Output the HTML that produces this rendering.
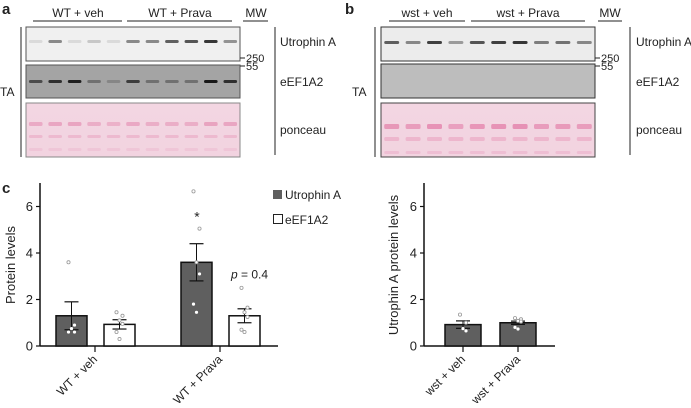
<!DOCTYPE html>
<html><head><meta charset="utf-8"><style>
body{margin:0;background:#fff;width:691px;height:403px;overflow:hidden;font-family:"Liberation Sans",sans-serif}
svg text{font-family:"Liberation Sans",sans-serif;fill:#222}
</style></head><body>
<svg id="fig" width="691" height="403" xmlns="http://www.w3.org/2000/svg">
<defs>
<linearGradient id="pon" x1="0" y1="0" x2="0" y2="1">
<stop offset="0" stop-color="#f3d6e2"/><stop offset="1" stop-color="#f2d3e0"/></linearGradient>
</defs>
<g>
<text x="2" y="14" font-size="15" font-weight="bold">a</text>
<text x="78" y="17" font-size="12" text-anchor="middle">WT + veh</text>
<line x1="33" y1="21" x2="122" y2="21" stroke="#222"/>
<text x="180" y="17" font-size="12" text-anchor="middle">WT + Prava</text>
<line x1="127" y1="21" x2="232" y2="21" stroke="#222"/>
<text x="256" y="17" font-size="12" text-anchor="middle">MW</text>
<line x1="243" y1="21" x2="268" y2="21" stroke="#222"/>
<line x1="21" y1="27" x2="21" y2="157" stroke="#222"/>
<text x="0" y="96" font-size="12">TA</text>
<rect x="26" y="27" width="214" height="34" fill="#f0f0f0" stroke="#555"/>
<rect x="26" y="65" width="214" height="33" fill="#a4a4a4" stroke="#555"/>
<rect x="26" y="103" width="214" height="54" fill="url(#pon)" stroke="#888"/>
<g id="bandsA"></g>
<line x1="240" y1="58" x2="245" y2="58" stroke="#222"/><text x="246" y="62" font-size="11">250</text>
<line x1="240" y1="66" x2="245" y2="66" stroke="#222"/><text x="246" y="70" font-size="11">55</text>
<line x1="275" y1="27" x2="275" y2="155" stroke="#222"/>
<text x="280" y="46" font-size="12">Utrophin A</text>
<text x="280" y="86" font-size="12">eEF1A2</text>
<text x="280" y="134" font-size="12">ponceau</text>
</g>
<g>
<text x="345" y="14" font-size="15" font-weight="bold">b</text>
<text x="427" y="17" font-size="12" text-anchor="middle">wst + veh</text>
<line x1="389" y1="21" x2="465" y2="21" stroke="#222"/>
<text x="528" y="17" font-size="12" text-anchor="middle">wst + Prava</text>
<line x1="471" y1="21" x2="585" y2="21" stroke="#222"/>
<text x="610" y="17" font-size="12" text-anchor="middle">MW</text>
<line x1="598" y1="21" x2="622" y2="21" stroke="#222"/>
<line x1="375" y1="27" x2="375" y2="157" stroke="#222"/>
<text x="352" y="96" font-size="12">TA</text>
<rect x="381" y="27" width="214" height="34" fill="#ececec" stroke="#333"/>
<rect x="381" y="64" width="214" height="34" fill="#bdbdbd" stroke="#333"/>
<rect x="381" y="103" width="214" height="54" fill="url(#pon)" stroke="#444"/>
<g id="bandsB"></g>
<line x1="595" y1="58" x2="600" y2="58" stroke="#222"/><text x="601" y="62" font-size="11">250</text>
<line x1="595" y1="66" x2="600" y2="66" stroke="#222"/><text x="601" y="70" font-size="11">55</text>
<line x1="630" y1="27" x2="630" y2="155" stroke="#222"/>
<text x="636" y="46" font-size="12">Utrophin A</text>
<text x="636" y="86" font-size="12">eEF1A2</text>
<text x="636" y="134" font-size="12">ponceau</text>
</g>
<text x="2" y="193" font-size="15" font-weight="bold">c</text>
<g id="chartL"></g>
<g id="chartR"></g>
<rect x="273" y="190" width="9" height="9" fill="#5f5f5f"/>
<text x="285" y="199" font-size="12">Utrophin A</text>
<rect x="273.5" y="214.5" width="9" height="9" fill="#fff" stroke="#222"/>
<text x="285" y="224" font-size="12">eEF1A2</text>
</svg>
<script>
const NS="http://www.w3.org/2000/svg";
function mk(p,t,a){const e=document.createElementNS(NS,t);for(const k in a)e.setAttribute(k,a[k]);p.appendChild(e);return e;}
const bandsAUtro=[0.1,0.5,0.1,0.2,0.1,0.5,0.5,0.7,0.75,0.9,0.45];
const bandsAEef=[0.6,0.8,0.9,0.35,0.2,0.7,0.35,0.35,0.35,0.95,0.8];
const bandsBUtro=[0.7,0.5,0.85,0.4,0.75,0.85,0.9,0.55,0.6,0.5];
function bands(g,x0,w,arr,y,col,h){const n=arr.length,s=w/n;arr.forEach((v,i)=>{const b=mk(g,'rect',{x:x0+i*s+s*0.15,y:y,width:s*0.7,height:h||3,rx:1.5,fill:col,opacity:v});

});}
const gA=document.getElementById('bandsA'),gB=document.getElementById('bandsB');
bands(gA,26,214,bandsAUtro,40,'#222');
bands(gA,26,214,bandsAEef,80,'#111');
bands(gA,26,214,bandsAEef.map(v=>0.35+0.2*v),122,'#e07aa5',4);
bands(gA,26,214,bandsAEef.map(v=>0.3),135,'#e07aa5',3);
bands(gA,26,214,bandsAEef.map(v=>0.15),148,'#e07aa5',3);
bands(gB,381,214,bandsBUtro,41,'#222');
bands(gB,381,214,bandsBUtro.map(v=>0.4+0.3*v),124,'#e0709f',5);
bands(gB,381,214,bandsBUtro.map(v=>0.3),137,'#e0709f',4);
bands(gB,381,214,bandsBUtro.map(v=>0.2),151,'#e0709f',3);

const catsL=["WT + veh","WT + Prava"];
const utroMean=[1.3,3.6], utroErr=[0.6,0.8];
const eefMean=[0.93,1.3], eefErr=[0.2,0.3];
const utroPts=[[3.6,0.9,0.75,0.6,0.6],[6.65,5.05,3.6,3.1,1.8,1.45]];
const eefPts=[[1.45,1.3,1.1,0.95,0.6,0.3],[2.5,1.65,1.45,1.25,0.7,0.6]];
const catsR=["wst + veh","wst + Prava"];
const wstMean=[0.92,1.0], wstErr=[0.16,0.07];
const wstPts=[[1.35,1.0,0.75,0.65],[1.2,1.15,1.08,1.05,0.8,0.73]];
const yTicks=[0,2,4,6];

const y0=346, ppu=23.25;
const yS=v=>y0-v*ppu;

function axis(g,xa,xe,title,tx){
  mk(g,'line',{x1:xa,y1:183,x2:xa,y2:y0,stroke:'#111','stroke-width':1.5});
  mk(g,'line',{x1:xa,y1:y0,x2:xe,y2:y0,stroke:'#111','stroke-width':1.5});
  yTicks.forEach(t=>{mk(g,'line',{x1:xa-4,y1:yS(t),x2:xa,y2:yS(t),stroke:'#111','stroke-width':1.2});
   const l=mk(g,'text',{x:xa-7,y:yS(t)+4.5,'font-size':13,'text-anchor':'end'});l.textContent=t;
   
   });
  const tt=mk(g,'text',{x:tx,y:265,'font-size':13,'text-anchor':'middle',transform:`rotate(-90 ${tx} 265)`});tt.textContent=title;
  
  
}
function bar(g,x,w,m,e,pts,fill,inner,name){
  const r=mk(g,'rect',{x:x,y:yS(m),width:w,height:y0-yS(m),fill:fill,stroke:'#111','stroke-width':1.5});
  
  
  const cx=x+w/2;
  mk(g,'line',{x1:cx,y1:yS(m+e),x2:cx,y2:yS(m-e),stroke:'#111','stroke-width':1});
  mk(g,'line',{x1:cx-7,y1:yS(m+e),x2:cx+7,y2:yS(m+e),stroke:'#111','stroke-width':1.2});
  mk(g,'line',{x1:cx-7,y1:yS(m-e),x2:cx+7,y2:yS(m-e),stroke:'#111','stroke-width':1.2});
  pts.forEach((p,i)=>{const dx=(i%2?3:-3)*(i%3==2?0:1);const ins=p<m&&inner;
   const c=mk(g,'circle',{cx:cx+dx,cy:yS(p),r:1.6,fill:'#fff',stroke:ins?'none':'#999','stroke-width':0.8});
   
   });
}
function xlab(g,x,t){mk(g,'line',{x1:x,y1:y0,x2:x,y2:y0+6,stroke:'#111','stroke-width':1.2});
  const l=mk(g,'text',{x:x+3,y:y0+14,'font-size':12,'text-anchor':'end',transform:`rotate(-45 ${x+3} ${y0+14})`});l.textContent=t;
  
  }

const gL=document.getElementById('chartL');
axis(gL,40,278,'Protein levels',15);
const grpX=[95,220];
catsL.forEach((c,i)=>{
  bar(gL,grpX[i]-39,31,utroMean[i],utroErr[i],utroPts[i],'#5f5f5f',true,'bar-utrophin');
  bar(gL,grpX[i]+9,31,eefMean[i],eefErr[i],eefPts[i],'#fff',false,'bar-eef1a2');
  xlab(gL,grpX[i],c);
});
const st=mk(gL,'text',{x:197,y:yS(5.35),'font-size':14,'text-anchor':'middle'});st.textContent='*';


const pv=mk(gL,'text',{x:231,y:yS(2.9),'font-size':12});pv.innerHTML='<tspan font-style="italic">p</tspan> = 0.4';



const gR=document.getElementById('chartR');
axis(gR,424,555,'Utrophin A protein levels',398);
const rX=[463,518];
catsR.forEach((c,i)=>{
  bar(gR,rX[i]-18,36,wstMean[i],wstErr[i],wstPts[i],'#5f5f5f',true,'bar-utrophin-wst');
  xlab(gR,rX[i],c);
});
</script>
</body></html>
